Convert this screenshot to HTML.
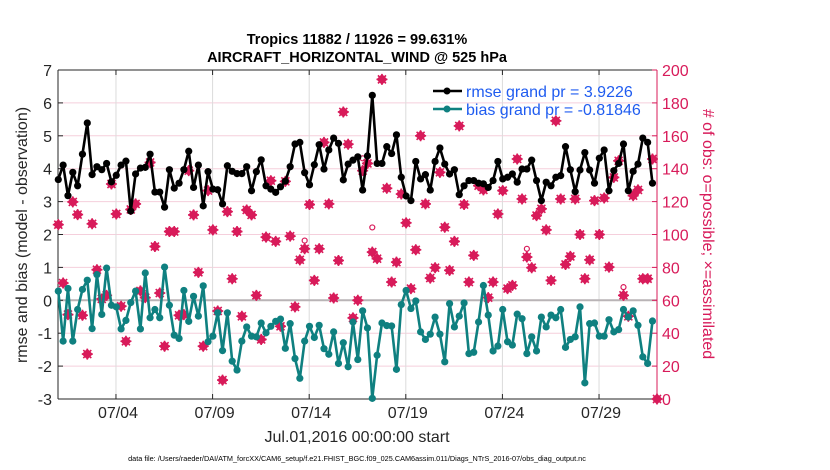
<!DOCTYPE html>
<html><head><meta charset="utf-8">
<style>
html,body{margin:0;padding:0;background:#fff;}
svg{display:block;font-family:"Liberation Sans",sans-serif;}
</style></head><body>
<svg id="chart" width="830" height="470" viewBox="0 0 830 470"></svg>
<script>
const rmse=[3.67,4.11,3.18,3.89,3.48,4.44,5.39,3.82,4.06,3.97,4.16,3.6,3.80,4.11,4.23,2.71,3.84,4.02,4.04,4.44,3.29,3.29,2.83,3.97,3.41,3.56,3.97,4.53,3.43,4.11,2.87,3.91,3.38,3.36,2.93,4.09,3.92,3.85,3.85,4.06,3.33,
3.91,4.27,3.48,3.38,3.28,3.45,3.62,4.06,4.75,4.80,3.88,3.51,4.12,4.73,3.99,4.57,4.93,4.77,3.66,4.14,4.26,4.36,3.35,4.39,6.23,4.16,4.16,4.67,4.46,5.03,3.74,3.17,3.03,4.22,3.69,3.82,3.35,4.22,4.63,4.14,
3.84,3.97,3.21,3.48,3.64,3.64,3.56,3.54,3.43,3.64,4.22,3.69,3.74,3.84,3.59,3.99,3.99,4.26,3.64,3.03,3.59,3.48,3.74,3.79,4.67,3.97,3.30,3.96,
4.49,3.96,3.56,4.32,4.57,3.33,3.94,4.16,4.75,3.33,3.92,4.14,4.93,4.80,3.56];
const bias=[0.28,-1.24,0.36,-1.24,-0.28,0.33,0.61,-0.86,0.78,-0.43,0.98,-0.15,-0.2,-0.87,-0.61,-0.07,0.28,-0.87,0.83,-0.53,-0.28,-0.53,1.01,-0.15,-1.06,-1.16,0.30,-0.64,0.12,-0.48,0.44,-1.26,-1.09,-0.38,-1.53,-0.38,-1.85,-2.12,-1.24,-0.81,-1.09,
-1.11,-0.69,-0.99,-0.79,-0.64,-0.57,-1.46,-0.71,-1.77,-2.37,-1.24,-0.79,-1.13,-0.76,-1.47,-1.64,-0.96,-1.92,-1.29,-2.02,-0.66,-1.80,-0.32,-0.84,-2.98,-1.67,-0.69,-0.77,-0.78,-2.10,-0.13,0.30,-0.25,-0.02,-0.96,-1.19,-1.03,-0.51,-1.03,-1.87,
-0.10,-0.81,-0.48,-0.08,-1.62,-1.58,-0.66,0.45,-0.45,-1.54,-1.39,-0.28,-1.26,-1.36,-0.42,-0.56,-1.62,-1.11,-1.54,-0.51,-0.81,-0.45,-0.53,-0.28,-1.43,-1.19,-1.11,-0.20,
-2.51,-0.71,-0.69,-1.09,-1.09,-0.59,-0.96,-0.89,-0.28,-0.51,-0.32,-0.76,-1.72,-1.92,-0.63];
const nAssim=[106,70.5,51.3,119.8,112.1,50.9,27.3,106.5,78.6,60.8,63,130.7,112.5,56.4,35.1,115.2,118.6,65.7,61.6,143.8,92.7,64.4,32.1,101.8,101.8,50.9,51.3,138.8,111.9,77,32.1,126.7,102.8,53.5,11.5,113.9,73.1,101.8,50.3,114.9,111.9,
63,36.2,98.4,132.7,95.8,44.2,132.3,99,56,84.6,91.3,118.2,72.1,91.3,156,118.6,61.4,84.2,174.5,154.9,49.3,60,138.8,143.2,89.3,85.3,194.3,128.1,71.1,83.2,124.6,107.1,67.1,90.7,160,118.6,73.5,79.8,137.8,104.4,
78.2,95.8,166,118.2,71.1,87.3,129.7,127.1,61.6,71.1,112.5,126.7,67.1,69.1,145.9,121.6,86.3,79.8,111.5,115.6,102.8,72.1,169.1,121.6,81.8,86.7,121.6,100,
73.1,84.6,120.6,100,122.2,80.2,134.7,144.8,63,50.3,123.6,127.1,73.1,73.1,145.9,0];
const nPossOffsets=[[65,6],[63,3],[97,2],[51,2],[117,2]];
const xTickLabels=["07/04","07/09","07/14","07/19","07/24","07/29"];
const xTickDays=[3,8,13,18,23,28];
const yLeftTicks=[-3,-2,-1,0,1,2,3,4,5,6,7];
const yRightTicks=[0,20,40,60,80,100,120,140,160,180,200];

const L=58,R=657,T=70,B=399,NDAYS=31;
const RED="#d81b5a",TEAL="#0f8080",NS="http://www.w3.org/2000/svg";
const xDay=d=>L+d*(R-L)/NDAYS;
const xIdx=i=>xDay(i/4)+0.3;
const yL=v=>B-(v+3)*(B-T)/10;
const yR=c=>B-c*(B-T)/200;
const svg=document.getElementById('chart');
function mk(tag,attrs,parent){const e=document.createElementNS(NS,tag);for(const k in attrs)e.setAttribute(k,attrs[k]);(parent||svg).appendChild(e);return e;}

const grid=mk('g',{});


yLeftTicks.forEach(v=>{if(v>-3&&v<7&&v!==0){mk('line',{x1:L,x2:R,y1:yL(v),y2:yL(v),stroke:"#f5cfdc","stroke-width":1},grid);}});
xTickDays.forEach(d=>{mk('line',{x1:xDay(d),x2:xDay(d),y1:T,y2:B,stroke:"#dcdcdc","stroke-width":1},grid);});
const zl=mk('line',{x1:L,x2:R,y1:yL(0),y2:yL(0),stroke:"#b9b4b6","stroke-width":2});



const frame=mk('g',{});


mk('line',{x1:L,x2:R,y1:T,y2:T,stroke:"#262626","stroke-width":1},frame);
mk('line',{x1:L,x2:R,y1:B,y2:B,stroke:"#262626","stroke-width":1},frame);
mk('line',{x1:L,x2:L,y1:T,y2:B,stroke:"#262626","stroke-width":1},frame);
mk('line',{x1:R,x2:R,y1:T,y2:B,stroke:RED,"stroke-width":1},frame);

const yax=mk('g',{});


yLeftTicks.forEach(v=>{
  mk('line',{x1:L,x2:L+5,y1:yL(v),y2:yL(v),stroke:"#262626"},yax);
  const t=mk('text',{x:L-6,y:yL(v)+6,"text-anchor":"end","font-size":16,fill:"#262626"},yax);t.textContent=v;
});
const yax2=mk('g',{});


yRightTicks.forEach(c=>{
  mk('line',{x1:R-5,x2:R,y1:yR(c),y2:yR(c),stroke:RED},yax2);
  const t=mk('text',{x:R+5,y:yR(c)+6,"font-size":16,fill:RED},yax2);t.textContent=c;
});
const xax=mk('g',{});


xTickDays.forEach((d,i)=>{
  mk('line',{x1:xDay(d),x2:xDay(d),y1:B,y2:B-5,stroke:"#262626"},xax);
  mk('line',{x1:xDay(d),x2:xDay(d),y1:T,y2:T+5,stroke:"#262626"},xax);
  const t=mk('text',{x:xDay(d)+2,y:418,"text-anchor":"middle","font-size":16,fill:"#262626"},xax);t.textContent=xTickLabels[i];
});

function star(x,y,g){
  mk('path',{d:`M${x-5.5},${y}L${x},${y-5.5}L${x+5.5},${y}L${x},${y+5.5}Z`,fill:RED},g);
  mk('path',{d:`M${x-5.5},${y}H${x+5.5}M${x},${y-5.5}V${y+5.5}M${x-4},${y-4}L${x+4},${y+4}M${x+4},${y-4}L${x-4},${y+4}`,stroke:RED,"stroke-width":1.6},g);
}
const obs=mk('g',{});


nAssim.forEach((c,i)=>{const x=i===124?R:xIdx(i);star(x,yR(c),obs);});
const poss=mk('g',{});


nAssim.forEach((c,i)=>{const x=i===124?R:xIdx(i);let off=0;nPossOffsets.forEach(p=>{if(p[0]===i)off=p[1];});
  mk('circle',{cx:x,cy:yR(c+off*2.5),r:2.5,fill:"none",stroke:RED,"stroke-width":1.2},poss);});

function series(vals,color,name){
  const g=mk('g',{});
  
  
  mk('polyline',{points:vals.map((v,i)=>xIdx(i)+","+yL(v)).join(" "),fill:"none",stroke:color,"stroke-width":2.6,"stroke-linejoin":"round"},g);
  vals.forEach((v,i)=>mk('circle',{cx:xIdx(i),cy:yL(v),r:3.6,fill:color},g));
}
series(rmse,"#000000","rmse-line");
series(bias,TEAL,"bias-line");

const leg=mk('g',{});


[[ "#000000","rmse grand pr = 3.9226",91],[TEAL,"bias grand pr = -0.81846",109]].forEach((e,k)=>{
  const en=mk('g',{},leg);
  
  
  mk('line',{x1:433,x2:462,y1:e[2],y2:e[2],stroke:e[0],"stroke-width":2.6},en);
  mk('circle',{cx:447,cy:e[2],r:3.5,fill:e[0]},en);
  const t=mk('text',{x:466,y:e[2]+6,"font-size":16,fill:"#1f5cf0"},en);t.textContent=e[1];
});

function txt(s,attrs,name){const t=mk('text',attrs);t.textContent=s;return t;}
txt("Tropics 11882 / 11926 = 99.631%",{x:357,y:44,"text-anchor":"middle","font-size":14.5,"font-weight":"bold",fill:"#000"},"chart-title");
txt("AIRCRAFT_HORIZONTAL_WIND @ 525 hPa",{x:357,y:62,"text-anchor":"middle","font-size":14.5,"font-weight":"bold",fill:"#000"},"chart-subtitle");
txt("Jul.01,2016 00:00:00 start",{x:357,y:442,"text-anchor":"middle","font-size":16,fill:"#262626"},"x-axis-title");
txt("rmse and bias (model - observation)",{x:0,y:0,"text-anchor":"middle","font-size":16,fill:"#262626",transform:"translate(27,235) rotate(-90)"},"y-axis-title-left");
txt("# of obs: o=possible; \u00d7=assimilated",{x:0,y:0,"text-anchor":"middle","font-size":16,fill:RED,transform:"translate(703,234) rotate(90)"},"y-axis-title-right");
txt("data file: /Users/raeder/DAI/ATM_forcXX/CAM6_setup/f.e21.FHIST_BGC.f09_025.CAM6assim.011/Diags_NTrS_2016-07/obs_diag_output.nc",{x:357,y:461,"text-anchor":"middle","font-size":7.3,fill:"#000"},"data-file-note");
</script>
</body></html>
